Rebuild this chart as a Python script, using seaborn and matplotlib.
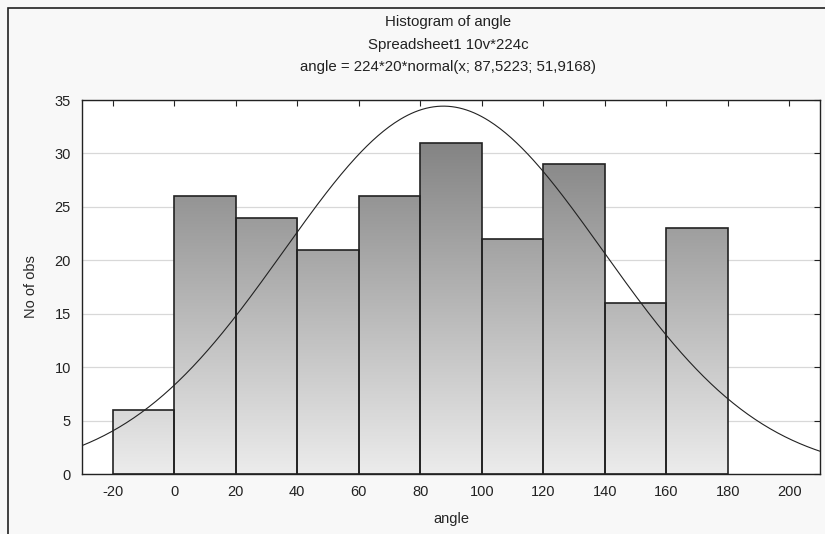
import numpy as np
import pandas as pd
import matplotlib
matplotlib.use("Agg")
import matplotlib.pyplot as plt
import seaborn as sns
from matplotlib.colors import LinearSegmentedColormap
from matplotlib.patches import Rectangle

# Data
bin_edges = [-20, 0, 20, 40, 60, 80, 100, 120, 140, 160, 180]
counts = [6, 26, 24, 21, 26, 31, 22, 29, 16, 23]
mu, sigma, n_obs, bw = 87.5223, 51.9168, 224, 20
x_ticks = [-20, 0, 20, 40, 60, 80, 100, 120, 140, 160, 180, 200]
y_ticks = [0, 5, 10, 15, 20, 25, 30, 35]
titles = ["Histogram of angle", "Spreadsheet1 10v*224c",
          "angle = 224*20*normal(x; 87,5223; 51,9168)"]

sns.set_style("white")
plt.rcParams['font.family'] = ['Liberation Sans', 'DejaVu Sans']
plt.rcParams['axes.unicode_minus'] = False

fig = plt.figure(figsize=(8.25, 5.34), dpi=100, facecolor="#f8f8f8")
ax = fig.add_axes([82/825, 1-474/534, (820-82)/825, (474-100)/534])
ax.set_facecolor("white")

centers = [(a + b) / 2 for a, b in zip(bin_edges[:-1], bin_edges[1:])]
df = pd.DataFrame({"angle": centers, "w": counts})
sns.histplot(data=df, x="angle", weights="w", bins=bin_edges, ax=ax,
             color="none", edgecolor="#222222", linewidth=1.2, alpha=1, zorder=3)

# gradient fill clipped to each bar
grad = np.linspace(0, 1, 256).reshape(-1, 1)
cmap = LinearSegmentedColormap.from_list("g", ["#ececec", "#767676"])
for p in list(ax.patches):
    im = ax.imshow(grad, extent=[-30, 210, 0, 35], origin="lower", cmap=cmap,
                   aspect="auto", zorder=2, vmin=0, vmax=1)
    im.set_clip_path(p)
ax.set_xlim(-30, 210)
ax.set_ylim(0, 35)

# normal curve
xs = np.linspace(-30, 210, 400)
ys = n_obs * bw * np.exp(-0.5 * ((xs - mu) / sigma) ** 2) / (sigma * np.sqrt(2 * np.pi))
sns.lineplot(x=xs, y=ys, ax=ax, color="#222222", linewidth=0.8, zorder=4)

ax.set_xticks(x_ticks)
ax.set_yticks(y_ticks)
ax.yaxis.grid(True, color="#d8d8d8", linewidth=0.9, zorder=0)
ax.set_axisbelow(True)
ax.tick_params(direction="in", length=4, top=True, right=True, labelsize=10.5,
               colors="#222222", pad=8)
for s in ax.spines.values():
    s.set_color("#222222")
    s.set_linewidth(1.0)

ax.set_xlabel("angle", fontsize=10.5, labelpad=9)
ax.set_ylabel("No of obs", fontsize=10.5, labelpad=12)

for t, yy in zip(titles, [22, 45, 67]):
    fig.text(448/825, 1 - yy/534, t, ha="center", va="center", fontsize=10.8, color="#222222")

# outer frame
fig.patches.append(Rectangle((8/825, -0.05), 1.2, 1 - 8/534 + 0.05, transform=fig.transFigure,
                             fill=False, edgecolor="#222222", linewidth=1.2))

fig.savefig("out.png", dpi=100, facecolor=fig.get_facecolor())
